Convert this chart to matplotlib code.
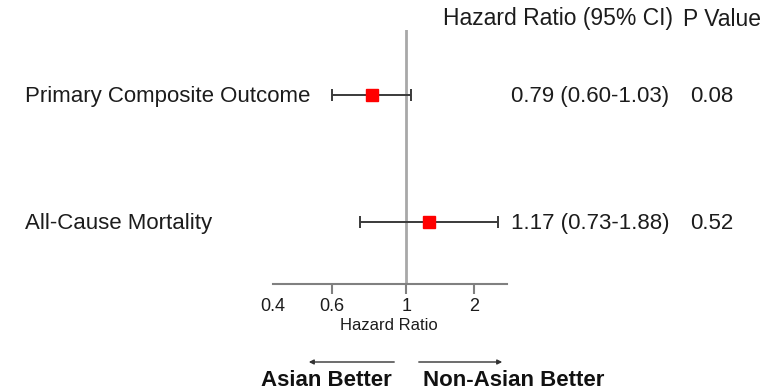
import matplotlib.pyplot as plt
import matplotlib.transforms as mtransforms
import numpy as np

plt.rcParams['font.family'] = ['Liberation Sans', 'DejaVu Sans']

outcomes = ['Primary Composite Outcome', 'All-Cause Mortality']
hr = np.array([0.79, 1.17])
ci_low = np.array([0.60, 0.73])
ci_high = np.array([1.03, 1.88])
p_values = ['0.08', '0.52']
tick_pos = [0.4, 0.6, 1, 1.59]
tick_labels = ['0.4', '0.6', '1', '2']

W, H = 766, 391
fig = plt.figure(figsize=(W / 100, H / 100), dpi=100)
ax = fig.add_axes([273 / W, 1 - 284 / H, 234 / W, 254 / H])

rows = np.arange(len(outcomes), 0, -1)
txt = '#1c1c1c'

ax.axvline(1, color='#a8a8a8', lw=2, zorder=1)
ax.errorbar(hr, rows, xerr=[hr - ci_low, ci_high - hr], fmt='none',
            ecolor='#3a3a3a', elinewidth=1.4, capsize=4, capthick=1.4, zorder=2)
ax.plot(hr, rows, 's', color='#ff0000', markersize=8, zorder=3)

ax.set_xscale('log')
ax.set_xlim(0.4, 2)
ax.set_ylim(0.51, 2.51)
ax.set_yticks([])
for s in ['left', 'right', 'top']:
    ax.spines[s].set_visible(False)
ax.spines['bottom'].set_color('#808080')
ax.spines['bottom'].set_linewidth(1.5)
ax.set_xticks(tick_pos)
ax.set_xticklabels(tick_labels, fontsize=13, color=txt)
ax.xaxis.set_minor_locator(plt.NullLocator())
ax.tick_params(axis='x', length=7, width=1.5, color='#808080', pad=3)
ax.xaxis.get_major_ticks()[0].tick1line.set_visible(False)

# row labels and stats columns, nudged down a couple of pixels
trans = mtransforms.blended_transform_factory(fig.transFigure, ax.transData)
trans = trans + mtransforms.ScaledTranslation(0, -2 / 100, fig.dpi_scale_trans)
for y, name, h, lo, hi, p in zip(rows, outcomes, hr, ci_low, ci_high, p_values):
    ax.text(25 / W, y, name, transform=trans, ha='left', va='center',
            fontsize=16, color=txt)
    ax.text(511 / W, y, f'{h:.2f} ({lo:.2f}-{hi:.2f})', transform=trans,
            ha='left', va='center', fontsize=16, color=txt)
    ax.text(690 / W, y, p, transform=trans, ha='left', va='center',
            fontsize=16, color=txt)

fig.text(443 / W, 1 - 19 / H, 'Hazard Ratio (95% CI)', ha='left', va='center',
         fontsize=16.5, color=txt)
fig.text(683 / W, 1 - 19 / H, 'P Value', ha='left', va='center',
         fontsize=16.5, color=txt)

fig.text(389 / W, 1 - 326 / H, 'Hazard Ratio', ha='center', va='center',
         fontsize=12, color=txt)

# direction arrows
arrow = dict(arrowstyle='-|>', color='#333333', lw=1, mutation_scale=7)
ax.annotate('', xy=(306, H - 362), xytext=(397, H - 362),
            xycoords='figure pixels', textcoords='figure pixels', arrowprops=arrow)
ax.annotate('', xy=(505, H - 362), xytext=(416, H - 362),
            xycoords='figure pixels', textcoords='figure pixels', arrowprops=arrow)
fig.text(326 / W, 1 - 380 / H, 'Asian Better', ha='center', va='center',
         fontsize=16, fontweight='bold', color='#111111')
fig.text(514 / W, 1 - 380 / H, 'Non-Asian Better', ha='center', va='center',
         fontsize=16, fontweight='bold', color='#111111')

fig.savefig('out.png', dpi=100)
